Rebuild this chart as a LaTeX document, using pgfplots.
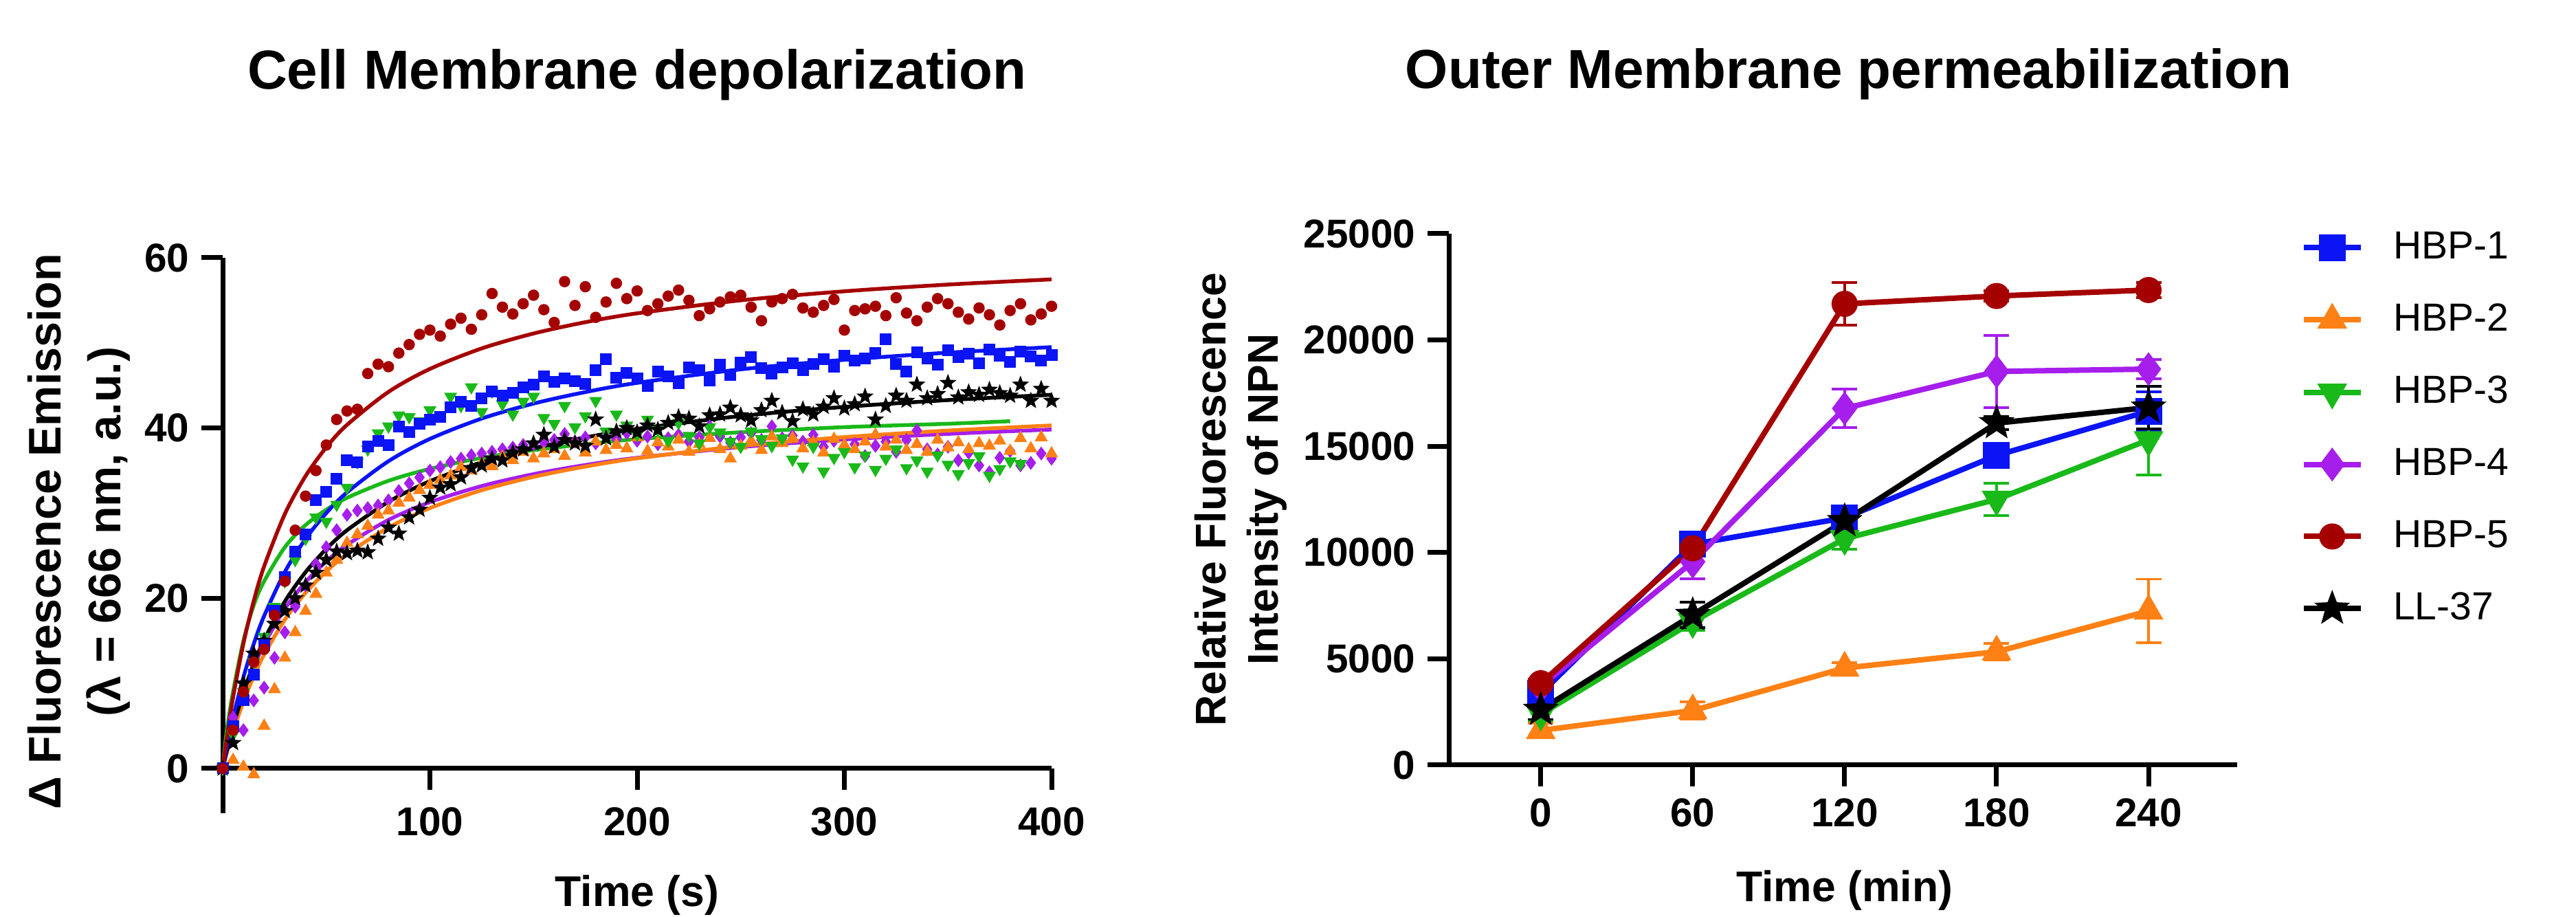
\documentclass[border=0pt]{standalone}
\usepackage{fontspec}
\setmainfont{Liberation Sans}
\usepackage{pgfplots}
\pgfplotsset{compat=1.18}
\definecolor{cblue}{RGB}{10,20,245}
\definecolor{corange}{RGB}{255,128,20}
\definecolor{cgreen}{RGB}{25,185,25}
\definecolor{cpurple}{RGB}{165,30,235}
\definecolor{cred}{RGB}{165,0,0}
\pgfdeclareplotmark{fstar}{%
  \pgfpathmoveto{\pgfpointpolar{90}{\pgfplotmarksize}}%
  \pgfpathlineto{\pgfpointpolar{126}{0.42\pgfplotmarksize}}%
  \pgfpathlineto{\pgfpointpolar{162}{\pgfplotmarksize}}%
  \pgfpathlineto{\pgfpointpolar{198}{0.42\pgfplotmarksize}}%
  \pgfpathlineto{\pgfpointpolar{234}{\pgfplotmarksize}}%
  \pgfpathlineto{\pgfpointpolar{270}{0.42\pgfplotmarksize}}%
  \pgfpathlineto{\pgfpointpolar{306}{\pgfplotmarksize}}%
  \pgfpathlineto{\pgfpointpolar{342}{0.42\pgfplotmarksize}}%
  \pgfpathlineto{\pgfpointpolar{18}{\pgfplotmarksize}}%
  \pgfpathlineto{\pgfpointpolar{54}{0.42\pgfplotmarksize}}%
  \pgfpathclose\pgfusepathqfillstroke}
\pgfplotsset{
  gp/.style={
    scale only axis, clip=false,
    tick style={line width=1.4pt, black},
    major tick length=6.2pt,
    ticklabel style={font=\fontsize{11.7}{14}\selectfont\bfseries},
    /pgf/number format/assume math mode=true,
    /pgf/number format/1000 sep={},
    scaled ticks=false,
    hide obscured x ticks=false, hide obscured y ticks=false,
  },
  nolinearrows/.style={
    axis line style={-, line width=1.4pt, black},
    every inner x axis line/.append style={-},
    every inner y axis line/.append style={-},
    every outer x axis line/.append style={-},
    every outer y axis line/.append style={-},
    xtick align=outside, ytick align=outside,
  },
}
\begin{document}
\begin{tikzpicture}
\path[use as bounding box] (0,0) rectangle (749.6pt,266.8pt);
% ---------------- left panel ----------------
\begin{axis}[gp, at={(64.8pt,30.2pt)}, anchor=south west,
  width=241.2pt, height=161.6pt,
  xmin=0, xmax=400, ymin=-5.25, ymax=60,
  axis lines=middle, nolinearrows,
  xtick={100,200,300,400}, ytick={0,20,40,60},
  xticklabel style={yshift=-1.6pt},
  title={Cell Membrane depolarization},
  every axis title/.style={at={(axis description cs:0.5,1.33)}, anchor=center, font=\fontsize{16}{19}\selectfont\bfseries},
  xlabel={Time (s)},
  every axis x label/.style={at={(axis description cs:0.5,-0.148)}, anchor=center, font=\fontsize{12.5}{15}\selectfont\bfseries},
  ylabel={Δ Fluorescence Emission\\(λ = 666 nm, a.u.)},
  every axis y label/.style={at={(axis description cs:-0.1737,0.507)}, anchor=center, rotate=90, align=center, font=\fontsize{13.3}{17.4}\selectfont\bfseries},
]
% HBP-4 purple diamonds
\addplot[only marks, mark=diamond*, cpurple, mark size=1.7pt] coordinates {
(0,0)(5,6)(10,4.5)(15,8)(20,9.5)(25,13)(30,16)(35,19)(40,21.5)(45,24)(50,26)(55,28)(60,29.8)(65,30.3)(70,30.6)(75,30.9)(80,31.5)(85,32.6)(90,33.5)(95,34.2)(100,35)(105,35.4)(110,36)(115,36.4)(120,36.8)(125,37)(130,37.2)(135,37.5)(140,37.7)(145,38)(150,38.1)(155,38.3)(160,38.6)(165,39.3)(170,38.4)(175,38.9)(180,38.2)(185,39.1)(190,38.7)(195,39.4)(200,38.5)(205,39)(210,38.1)(215,38.8)(220,39.2)(225,38.4)(230,38.9)(235,40.2)(240,39)(245,38.3)(250,38.9)(255,39.4)(260,38.6)(265,40.2)(270,38.8)(275,39.1)(280,38.4)(285,39.2)(290,37.8)(295,38.5)(300,37.4)(305,38.1)(310,36.7)(315,37.9)(320,38.4)(325,37.2)(330,38.6)(335,39.7)(340,37.5)(345,36.9)(350,37.8)(355,36.2)(360,37.1)(365,35.6)(370,34.8)(375,36.5)(380,37.3)(385,35.6)(390,35.9)(395,37)(400,36.4)};
% HBP-2 orange triangles
\addplot[only marks, mark=triangle*, corange, mark size=1.8pt] coordinates {
(0,0)(5,1)(10,0.2)(15,-0.7)(20,5)(25,9.3)(30,13)(35,16)(40,18.5)(45,20.5)(50,23)(55,24.5)(60,26.5)(65,27.5)(70,28.5)(75,29.8)(80,30.3)(85,31.2)(90,31.8)(95,32.7)(100,33.3)(105,33.9)(110,34.4)(115,35.4)(120,35)(125,35.8)(130,35.5)(135,36.6)(140,36.2)(145,37.2)(150,36.4)(155,37)(160,37.5)(165,36.7)(170,38.2)(175,37.1)(180,38.4)(185,37.4)(190,38)(195,37.6)(200,38.9)(205,37.3)(210,38.3)(215,37.8)(220,38.6)(225,37.2)(230,38.1)(235,38.8)(240,37.5)(245,36.4)(250,37.9)(255,38.5)(260,37.4)(265,39)(270,38.2)(275,38.8)(280,37.6)(285,38.3)(290,37.1)(295,38.7)(300,38)(305,37.5)(310,38.4)(315,39.2)(320,37.8)(325,38.6)(330,37.4)(335,38.1)(340,37.2)(345,38.6)(350,37.7)(355,38.3)(360,37.5)(365,38.2)(370,37.9)(375,38.5)(380,37.3)(385,38.8)(390,37.6)(395,38.9)(400,37)};
% HBP-3 green inverted triangles
\addplot[only marks, mark=triangle*, mark options={rotate=180}, cgreen, mark size=1.8pt] coordinates {
(0,0)(5,4)(10,9)(15,12.5)(20,15.5)(25,19)(30,22)(35,24.5)(40,27)(45,29.5)(50,29)(55,31)(60,33)(65,36)(70,37.5)(75,39.4)(80,40.2)(85,41.5)(90,41.3)(95,40.8)(100,42.1)(105,41.5)(110,43.7)(115,42.6)(120,44.8)(125,41.9)(130,44.3)(135,42.8)(140,41.6)(145,43.1)(150,43.7)(155,41.2)(160,40.5)(165,42.6)(170,40.1)(175,41.4)(180,43.2)(185,39.6)(190,41.6)(195,40.3)(200,39.2)(205,41)(210,39.8)(215,38.5)(220,40.6)(225,39.1)(230,38.2)(235,40.1)(240,39.5)(245,38.4)(250,37.8)(255,39.6)(260,38.7)(265,37.9)(270,38.8)(275,36.3)(280,35.5)(285,37.8)(290,34.9)(295,36.5)(300,37.2)(305,35.4)(310,36.8)(315,35.1)(320,36.4)(325,37.5)(330,35.3)(335,36.2)(340,34.9)(345,36.8)(350,35.7)(355,34.6)(360,35.9)(365,36.7)(370,34.4)(375,35.2)(380,36.1)(385,35.8)};
% LL-37 black stars
\addplot[only marks, mark=fstar, black, mark size=2.2pt, mark options={line width=0.3pt}] coordinates {
(0,0)(5,3)(10,10)(15,13.5)(20,15)(25,17)(30,18.5)(35,20)(40,21.5)(45,23)(50,24.5)(55,25.5)(60,25.3)(65,25.6)(70,25.4)(75,27)(80,28.3)(85,27.6)(90,29.5)(95,30.4)(100,31.8)(105,33)(110,33.4)(115,34.2)(120,35.3)(125,35.6)(130,36.4)(135,36.2)(140,37.1)(145,37.5)(150,38.2)(155,39.2)(160,37.8)(165,38.6)(170,38.2)(175,37.9)(180,41)(185,38.8)(190,39.6)(195,40)(200,39.5)(205,40.3)(210,39.8)(215,40.6)(220,41.3)(225,41.1)(230,40.2)(235,41.5)(240,41.6)(245,42.4)(250,41.5)(255,40.9)(260,42.1)(265,43.2)(270,41.8)(275,40.8)(280,42.2)(285,41.6)(290,42.5)(295,43.5)(300,42.3)(305,42.8)(310,43.7)(315,41)(320,42.6)(325,43.8)(330,43.2)(335,45.1)(340,43.5)(345,44)(350,45.3)(355,43.6)(360,44.2)(365,43.9)(370,44.5)(375,44.1)(380,43.8)(385,45.1)(390,43.2)(395,44.6)(400,43.2)};
% HBP-1 blue squares
\addplot[only marks, mark=square*, cblue, mark size=1.5pt] coordinates {
(0,0)(5,5)(10,8)(15,11)(20,14.5)(25,18.5)(30,22.5)(35,25.5)(40,27.5)(45,31.5)(50,32.5)(55,34)(60,36.2)(65,36)(70,37.8)(75,38.5)(80,38)(85,40.2)(90,39.5)(95,40.5)(100,41)(105,41.3)(110,42.4)(115,43.1)(120,42.6)(125,43.5)(130,44.3)(135,43.8)(140,44.1)(145,44.8)(150,45.1)(155,46.1)(160,45.4)(165,45.8)(170,45.5)(175,45.2)(180,46.8)(185,48.1)(190,45.9)(195,46.5)(200,45.8)(205,44.9)(210,46.6)(215,46.1)(220,45.3)(225,47.1)(230,46.8)(235,45.6)(240,47.4)(245,46.2)(250,47.7)(255,48.3)(260,47)(265,46.4)(270,47.1)(275,47.6)(280,46.8)(285,47.5)(290,48.1)(295,47.2)(300,48.5)(305,47.9)(310,48.2)(315,48.8)(320,50.4)(325,47.5)(330,46.6)(335,48.9)(340,48.2)(345,47.4)(350,49.1)(355,48.3)(360,48.7)(365,47.6)(370,49.2)(375,48.5)(380,47.8)(385,49)(390,48.4)(395,47.9)(400,48.6)};
% HBP-5 red circles
\addplot[only marks, mark=*, cred, mark size=1.45pt] coordinates {
(0,0)(5,4.5)(10,9)(15,12.5)(20,14)(25,18)(30,22)(35,28)(40,32)(45,35)(50,38)(55,41)(60,42)(65,42.2)(70,46.4)(75,47.5)(80,47.2)(85,48.8)(90,49.8)(95,51)(100,51.5)(105,50.8)(110,52.2)(115,52.9)(120,51.6)(125,53.3)(130,55.8)(135,54.2)(140,53.4)(145,54.6)(150,55.6)(155,53.9)(160,52.4)(165,57.2)(170,54.4)(175,56.6)(180,53)(185,54.8)(190,57)(195,55.2)(200,56.1)(205,53.8)(210,54.6)(215,55.5)(220,56.2)(225,55)(230,53.2)(235,54)(240,54.8)(245,55.4)(250,55.6)(255,54.2)(260,52.6)(265,54.8)(270,55.2)(275,55.7)(280,54.1)(285,53.6)(290,54.4)(295,55.1)(300,51.5)(305,53.8)(310,54)(315,54.3)(320,53.2)(325,55.3)(330,53.5)(335,52.6)(340,54.2)(345,55.2)(350,54.6)(355,53.6)(360,52.8)(365,54.1)(370,53.3)(375,52.1)(380,53.8)(385,54.6)(390,52.7)(395,53.4)(400,54.3)};
% fitted curves
\addplot[cpurple, line width=1.1pt, smooth] coordinates {(0,0)(2,2.09)(5,4.87)(10,8.76)(15,11.95)(20,14.6)(30,18.77)(40,21.9)(50,24.33)(60,26.28)(80,29.2)(100,31.29)(125,33.18)(150,34.58)(175,35.65)(200,36.5)(250,37.76)(300,38.65)(350,39.31)(400,39.82)};
\addplot[corange, line width=1.1pt, smooth] coordinates {(0,0)(2,1.83)(5,4.3)(10,7.86)(15,10.84)(20,13.38)(30,17.48)(40,20.64)(50,23.15)(60,25.19)(80,28.31)(100,30.59)(125,32.69)(150,34.26)(175,35.47)(200,36.44)(250,37.89)(300,38.93)(350,39.7)(400,40.3)};
\addplot[cgreen, line width=1.1pt, smooth] coordinates {(0,0)(2,4.5)(5,9)(10,15)(15,19.2)(20,22)(30,26)(40,28.6)(50,30.4)(60,31.8)(80,33.8)(100,35.2)(125,36.5)(150,37.4)(175,38.1)(200,38.7)(250,39.5)(300,40.1)(350,40.5)(380,40.8)};
\addplot[black, line width=1.1pt, smooth] coordinates {(0,0)(2,2.09)(5,4.92)(10,8.94)(15,12.28)(20,15.11)(30,19.62)(40,23.07)(50,25.79)(60,27.99)(80,31.33)(100,33.75)(125,35.97)(150,37.62)(175,38.89)(200,39.9)(250,41.41)(300,42.48)(350,43.28)(400,43.9)};
\addplot[cblue, line width=1.1pt, smooth] coordinates {(0,0)(2,2.54)(5,5.94)(10,10.72)(15,14.64)(20,17.92)(30,23.09)(40,26.98)(50,30.01)(60,32.44)(80,36.1)(100,38.72)(125,41.11)(150,42.87)(175,44.22)(200,45.3)(250,46.89)(300,48.01)(350,48.85)(400,49.5)};
\addplot[cred, line width=1.1pt, smooth] coordinates {(0,0)(2,3.62)(5,8.32)(10,14.68)(15,19.69)(20,23.75)(30,29.9)(40,34.36)(50,37.73)(60,40.37)(80,44.24)(100,46.94)(125,49.35)(150,51.1)(175,52.43)(200,53.47)(250,55)(300,56.06)(350,56.85)(400,57.46)};
\end{axis}
% ---------------- right panel ----------------
\begin{axis}[gp, at={(421.6pt,44.2pt)}, anchor=south west,
  width=229.4pt, height=154.6pt,
  xmin=-36.3, xmax=275, ymin=0, ymax=25000,
  axis lines=left, nolinearrows,
  xtick={0,60,120,180,240}, ytick={0,5000,10000,15000,20000,25000},
  title={Outer Membrane permeabilization},
  every axis title/.style={at={(axis description cs:0.507,1.30)}, anchor=center, font=\fontsize{16}{19}\selectfont\bfseries},
  xlabel={Time (min)},
  every axis x label/.style={at={(axis description cs:0.502,-0.236)}, anchor=center, font=\fontsize{12.5}{15}\selectfont\bfseries},
  ylabel={Relative Fluorescence\\Intensity of NPN},
  every axis y label/.style={at={(axis description cs:-0.264,0.5)}, anchor=center, rotate=90, align=center, font=\fontsize{12.5}{15.2}\selectfont\bfseries},
  legend style={at={(axis description cs:1.080,1.018)}, anchor=north west, draw=none, fill=none,
    font=\fontsize{11.4}{13}\selectfont, row sep=7.6pt, inner sep=0pt,
    nodes={inner sep=2pt}, /tikz/every odd column/.append style={column sep=6.7pt}},
  legend cell align=left,
  legend image code/.code={\draw[mark repeat=2, mark phase=2, line width=1.6pt, #1] plot coordinates {(0pt,0pt) (8.3pt,0pt) (16.6pt,0pt)};},
  every axis plot/.append style={line width=1.6pt},
  error bars/y dir=both, error bars/y explicit,
  error bars/error bar style={line width=0.75pt},
  error bars/error mark options={rotate=90, mark size=3.7pt, line width=0.75pt},
]
\addplot[cblue, mark=square*, mark size=3.1pt] coordinates {(0,3370) +- (0,300) (60,10390) +- (0,300) (120,11630) +- (0,500) (180,14570) +- (0,400) (240,16650) +- (0,900)};
\addplot[corange, mark=triangle*, mark size=3.4pt] coordinates {(0,1630) +- (0,350) (60,2565) +- (0,400) (120,4565) +- (0,250) (180,5330) +- (0,400) (240,7250) +- (0,1500)};
\addplot[cgreen, mark=triangle*, mark options={rotate=180}, mark size=3.4pt] coordinates {(0,2390) +- (0,300) (60,6740) +- (0,400) (120,10650) +- (0,500) (180,12500) +- (0,750) (240,15300) +- (0,1650)};
\addplot[cpurple, mark=diamond*, mark size=3.6pt] coordinates {(0,3700) +- (0,200) (60,9565) +- (0,800) (120,16780) +- (0,900) (180,18520) +- (0,1700) (240,18630) +- (0,450)};
\addplot[cred, mark=*, mark size=3pt] coordinates {(0,3850) +- (0,200) (60,10200) +- (0,300) (120,21700) +- (0,1000) (180,22070) +- (0,250) (240,22350) +- (0,350)};
\addplot[black, mark=fstar, mark size=3.2pt] coordinates {(0,2600) +- (0,450) (60,7065) +- (0,600) (120,11480) +- (0,400) (180,16090) +- (0,300) (240,16820) +- (0,1000)};
\legend{HBP-1,HBP-2,HBP-3,HBP-4,HBP-5,LL-37}
\end{axis}
\end{tikzpicture}
\end{document}
